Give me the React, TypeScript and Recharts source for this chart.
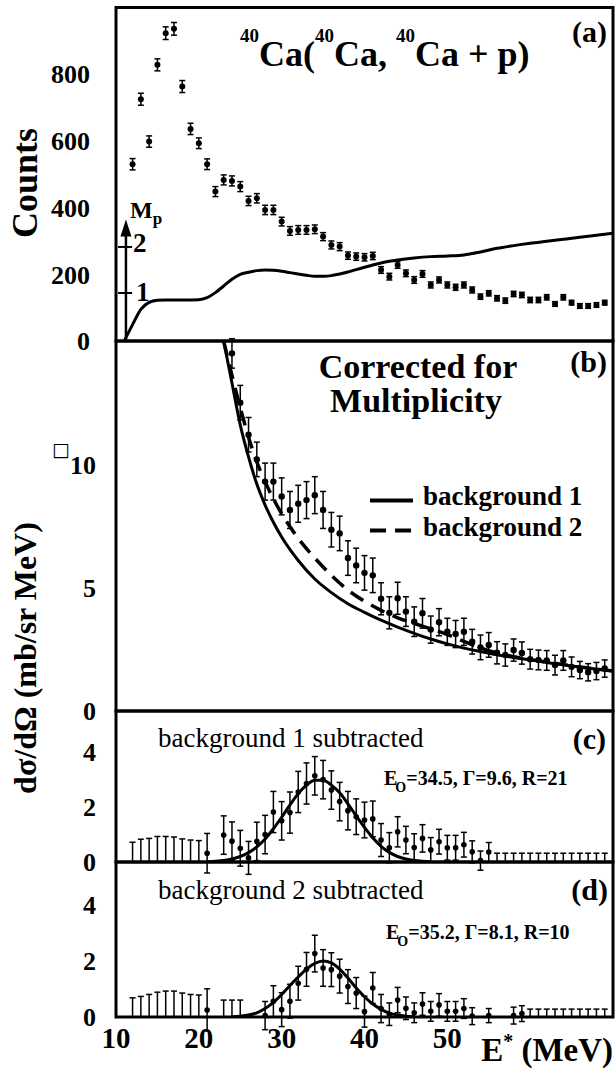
import React from "react";
import {
  ComposedChart,
  Scatter,
  Line,
  XAxis,
  YAxis,
  ErrorBar,
  ReferenceArea,
  ReferenceLine,
  ReferenceDot,
} from "recharts";

const FONT = "'Liberation Serif', 'Times New Roman', Times, serif";
const X_DOMAIN: [number, number] = [10, 70];
const X_TICK_MARKS = [20, 30, 40, 50, 60];
const X_TICK_LABELS = [10, 20, 30, 40, 50];

// ---------- panel (a): counts ----------
const aEnergy = [12, 13, 14, 15, 16, 17, 18, 19, 20, 21, 22, 23, 24, 25, 26, 27, 28, 29, 30, 31, 32, 33, 34, 35, 36, 37, 38, 39, 40, 41, 42, 43, 44, 45, 46, 47, 48, 49, 50, 51, 52, 53, 54, 55, 56, 57, 58, 59, 60, 61, 62, 63, 64, 65, 66, 67, 68, 69];
const aCounts = [530, 725, 598, 828, 923, 936, 763, 636, 593, 530, 448, 483, 480, 463, 420, 428, 393, 393, 358, 330, 333, 333, 335, 313, 288, 283, 256, 253, 251, 255, 213, 193, 228, 203, 183, 201, 168, 183, 168, 161, 168, 153, 133, 143, 128, 121, 141, 138, 123, 123, 131, 111, 131, 115, 105, 105, 108, 115];
const aErr = [17, 18, 17, 18, 19, 19, 18, 17, 16, 16, 15, 15, 15, 15, 14, 14, 14, 14, 13, 13, 13, 13, 13, 12, 12, 12, 11, 11, 11, 11, 10, 10, 10, 10, 10, 10, 9, 9, 9, 9, 9, 9, 8, 8, 8, 8, 8, 8, 8, 8, 8, 7, 8, 7, 7, 7, 7, 7];
// multiplicity curve, in counts units
const mpEnergy = [11, 12, 13, 14, 15, 16, 18, 20, 21, 22, 23, 24, 25, 26, 27, 28, 29, 30, 31, 32, 33, 34, 35, 36, 37, 38, 39, 40, 41, 42, 43, 44, 46, 48, 50, 52, 54, 56, 58, 60, 62, 64, 66, 68, 70];
const mpCounts = [0, 49, 95, 116, 122, 123, 123, 124, 130, 145, 165, 185, 200, 206, 211, 213, 212, 209, 205, 201, 197, 194, 194, 196, 201, 207, 214, 221, 228, 234, 239, 243, 249, 253, 255, 258, 267, 278, 286, 293, 299, 305, 311, 317, 323];
const MP_ARROW_E = 11.2;
const MP_ARROW_TOP = 340;
const MP_SCALE_TICKS = [144, 282];

// ---------- panel (b): cross section ----------
const bEnergy = [24, 25, 26, 27, 28, 29, 30, 31, 32, 33, 34, 35, 36, 37, 38, 39, 40, 41, 42, 43, 44, 45, 46, 47, 48, 49, 50, 51, 52, 53, 54, 55, 56, 57, 58, 59, 60, 61, 62, 63, 64, 65, 66, 67, 68, 69];
const bValue = [14.5, 12.5, 11.2, 10.2, 9.3, 9.3, 8.7, 8.15, 8.4, 8.55, 8.75, 8.15, 7.35, 7.2, 6.2, 5.9, 5.6, 5.5, 4.55, 3.98, 4.57, 4.03, 3.62, 3.96, 3.3, 3.6, 3.21, 3.12, 3.21, 2.81, 2.58, 2.68, 2.36, 2.27, 2.47, 2.35, 2.1, 2.07, 2.05, 1.86, 2.05, 1.79, 1.66, 1.57, 1.62, 1.72];
const bErr = [0.6, 0.7, 0.7, 0.7, 0.75, 0.75, 0.75, 0.75, 0.75, 0.75, 0.75, 0.75, 0.7, 0.7, 0.7, 0.7, 0.7, 0.7, 0.65, 0.65, 0.65, 0.6, 0.6, 0.6, 0.55, 0.55, 0.55, 0.55, 0.55, 0.5, 0.5, 0.5, 0.45, 0.45, 0.45, 0.45, 0.4, 0.4, 0.4, 0.4, 0.4, 0.4, 0.35, 0.35, 0.35, 0.35];
const bgEnergy = [23, 24, 25, 26, 27, 28, 29, 30, 32, 34, 36, 38, 40, 42, 44, 46, 48, 50, 52, 54, 56, 58, 60, 62, 64, 66, 68, 70];
const bg1Value = [15, 13.3, 11.6, 10.3, 9.2, 8.35, 7.65, 7.05, 6.1, 5.35, 4.8, 4.35, 4.0, 3.68, 3.4, 3.15, 2.92, 2.72, 2.55, 2.41, 2.28, 2.17, 2.07, 1.97, 1.87, 1.78, 1.7, 1.62];
const bg2Value = [15, 13.6, 12.3, 11.1, 10.1, 9.3, 8.6, 8.0, 7.0, 6.2, 5.5, 4.9, 4.45, 4.08, 3.78, 3.55, 3.33, 3.1, 2.82, 2.56, 2.35, 2.2, 2.09, 1.98, 1.88, 1.78, 1.7, 1.62];

// ---------- panel (c): background 1 subtracted ----------
const cEnergy = [21, 23, 24, 25, 26, 27, 28, 29, 30, 31, 32, 33, 34, 35, 36, 37, 38, 39, 40, 41, 42, 43, 44, 45, 46, 47, 48, 49, 50, 51, 52, 53, 54, 55];
const cValue = [0.32, 0.98, 0.76, 0.5, 0.15, 0.75, 1.0, 1.82, 1.5, 1.8, 2.55, 2.86, 3.14, 3.0, 2.62, 2.2, 1.87, 1.65, 1.53, 1.57, 0.8, 0.52, 1.1, 0.8, 0.53, 0.86, 0.44, 0.74, 0.52, 0.52, 0.63, 0.37, 0.05, 0.36];
const cErr = [0.72, 0.7, 0.7, 0.65, 0.6, 0.7, 0.7, 0.75, 0.7, 0.75, 0.75, 0.75, 0.7, 0.7, 0.7, 0.7, 0.7, 0.65, 0.65, 0.65, 0.6, 0.55, 0.55, 0.5, 0.5, 0.5, 0.45, 0.45, 0.45, 0.45, 0.45, 0.4, 0.35, 0.35];
const cLimitEnergy = [12, 13, 14, 15, 16, 17, 18, 19, 20, 56, 57, 58, 59, 60, 61, 62, 63, 64, 65, 66, 67, 68, 69];
const cLimitErr = [0.72, 0.83, 0.86, 0.93, 0.93, 0.91, 0.84, 0.8, 0.78, 0.32, 0.32, 0.32, 0.32, 0.32, 0.32, 0.32, 0.32, 0.32, 0.32, 0.32, 0.32, 0.32, 0.32];
const cFitEnergy = [21, 22, 23, 24, 25, 26, 27, 28, 29, 30, 31, 32, 33, 34, 35, 36, 37, 38, 39, 40, 41, 42, 43, 44, 45, 46, 47, 48];
const cFitValue = [0.01, 0.028, 0.057, 0.11, 0.2, 0.34, 0.55, 0.84, 1.21, 1.63, 2.08, 2.49, 2.8, 2.98, 2.98, 2.8, 2.52, 2.12, 1.68, 1.26, 0.88, 0.57, 0.35, 0.2, 0.11, 0.057, 0.028, 0.01];

// ---------- panel (d): background 2 subtracted ----------
const dEnergy = [21, 28, 29, 30, 31, 32, 33, 34, 35, 36, 37, 38, 39, 40, 41, 42, 43, 44, 45, 46, 47, 48, 49, 50, 51, 52, 53, 55, 58, 59];
const dValue = [0.25, 0.05, 0.56, 0.26, 0.56, 1.2, 1.69, 2.25, 1.74, 1.68, 1.45, 1.08, 0.85, 0.19, 1.03, 0.3, 0.1, 0.6, 0.31, 0.15, 0.46, 0.2, 0.43, 0.2, 0.2, 0.3, 0.03, 0.05, 0.05, 0.12];
const dErr = [0.75, 0.5, 0.55, 0.6, 0.6, 0.6, 0.6, 0.65, 0.65, 0.6, 0.6, 0.6, 0.55, 0.55, 0.55, 0.5, 0.4, 0.45, 0.4, 0.35, 0.4, 0.35, 0.4, 0.35, 0.35, 0.35, 0.3, 0.25, 0.3, 0.28];
const dLimitEnergy = [12, 13, 14, 15, 16, 17, 18, 19, 20, 23, 24, 25, 60, 61, 62, 63, 64, 65, 66, 67, 68, 69];
const dLimitErr = [0.68, 0.73, 0.8, 0.88, 0.92, 0.92, 0.85, 0.8, 0.78, 0.6, 0.6, 0.6, 0.28, 0.28, 0.28, 0.28, 0.28, 0.28, 0.28, 0.28, 0.28, 0.28];
const dFitEnergy = [24, 25, 26, 27, 28, 29, 30, 31, 32, 33, 34, 35, 36, 37, 38, 39, 40, 41, 42, 43, 44, 45, 46];
const dFitValue = [0.01, 0.03, 0.07, 0.15, 0.3, 0.52, 0.8, 1.12, 1.42, 1.7, 1.9, 1.99, 1.92, 1.7, 1.38, 1.03, 0.72, 0.46, 0.27, 0.14, 0.07, 0.03, 0.01];

// ---------- table builders ----------
const pts = (xs: number[], ys: number[], es: number[]) => xs.map((E, i) => ({ E, v: ys[i], err: es[i] }));
const curve = (xs: number[], ys: number[]) => xs.map((E, i) => ({ E, v: ys[i] }));
const limits = (xs: number[], es: number[]) => xs.map((E, i) => ({ E, v: 0, err: [0, es[i]] }));

const aData = pts(aEnergy, aCounts, aErr);
const mpData = curve(mpEnergy, mpCounts);
const bData = pts(bEnergy, bValue, bErr);
const bg1Data = curve(bgEnergy, bg1Value);
const bg2Data = curve(bgEnergy, bg2Value);
const cData = pts(cEnergy, cValue, cErr);
const cLimData = limits(cLimitEnergy, cLimitErr);
const cFitData = curve(cFitEnergy, cFitValue);
const dData = pts(dEnergy, dValue, dErr);
const dLimData = limits(dLimitEnergy, dLimitErr);
const dFitData = curve(dFitEnergy, dFitValue);

const dot = (r: number) => (p: any) => <circle cx={p.cx} cy={p.cy} r={r} fill="#000" />;
const noDot = () => <g />;
const arrowHead = (p: any) => (
  <path d={`M${p.cx},${p.cy - 8} L${p.cx - 5.5},${p.cy + 9} L${p.cx + 5.5},${p.cy + 9} Z`} fill="#000" />
);

const tickText = { fill: "#000", fontFamily: FONT, fontWeight: 700 };
const markLine = { stroke: "#000", strokeWidth: 3 };

function axes(yDomain: [number, number], yLabels: number[], yMarks: number[], gap: number, topTicks: boolean) {
  const els: React.ReactNode[] = [
    <XAxis key="xb" xAxisId="x" type="number" dataKey="E" domain={X_DOMAIN} allowDataOverflow ticks={X_TICK_MARKS} interval={0}
      orientation="bottom" mirror tick={false} axisLine={false} stroke="#000" tickLine={markLine} tickSize={7} />,
    <YAxis key="yl" yAxisId="y" type="number" dataKey="v" domain={yDomain} allowDataOverflow ticks={yLabels} interval={0}
      width={60} axisLine={false} tickLine={false} tickSize={0} tickMargin={gap} tick={{ ...tickText, fontSize: 26 }} />,
    <YAxis key="ym" yAxisId="ym" type="number" domain={yDomain} allowDataOverflow ticks={yMarks} interval={0}
      orientation="left" mirror tick={false} axisLine={false} stroke="#000" tickLine={markLine} tickSize={7} />,
  ];
  if (topTicks) {
    els.push(
      <XAxis key="xt" xAxisId="xt" type="number" dataKey="E" domain={X_DOMAIN} allowDataOverflow ticks={X_TICK_MARKS} interval={0}
        orientation="top" mirror tick={false} axisLine={false} stroke="#000" tickLine={markLine} tickSize={7} />
    );
  }
  return els;
}

function frame(yDomain: [number, number]) {
  return (
    <ReferenceArea key="frame" xAxisId="x" yAxisId="y" x1={X_DOMAIN[0]} x2={X_DOMAIN[1]} y1={yDomain[0]} y2={yDomain[1]}
      fill="#fff" fillOpacity={0} stroke="#000" strokeWidth={3} strokeOpacity={1} ifOverflow="visible" />
  );
}

const A_DOMAIN: [number, number] = [0, 1000];
const B_DOMAIN: [number, number] = [0, 15];
const C_DOMAIN: [number, number] = [0, 5.5];

export default function App() {
  const bold = { fontFamily: FONT, fontWeight: 700, fill: "#000" } as const;
  const regular = { fontFamily: FONT, fontWeight: 400, fill: "#000" } as const;
  return (
    <div style={{ position: "absolute", left: 0, top: 0, width: 616, height: 1073, background: "#fff" }}>
      {/* (a) */}
      <div style={{ position: "absolute", left: 0, top: 0 }}>
        <ComposedChart width={616} height={356} margin={{ top: 7.5, right: 3, bottom: 15, left: 56 }}>
          {axes(A_DOMAIN, [0, 200, 400, 600, 800], [200, 400, 600, 800], 26, true)}
          {frame(A_DOMAIN)}
          <Line xAxisId="x" yAxisId="y" data={mpData} dataKey="v" type="monotone" stroke="#000" strokeWidth={3} dot={false} isAnimationActive={false} />
          <Scatter xAxisId="x" yAxisId="y" data={aData} dataKey="v" shape={dot(3)} isAnimationActive={false}>
            <ErrorBar dataKey="err" direction="y" width={3} stroke="#000" strokeWidth={1.5} isAnimationActive={false} />
          </Scatter>
          <ReferenceLine xAxisId="x" yAxisId="y" segment={[{ x: MP_ARROW_E, y: 0 }, { x: MP_ARROW_E, y: MP_ARROW_TOP - 20 }]} stroke="#000" strokeWidth={2.5} ifOverflow="visible" />
          {MP_SCALE_TICKS.map((t) => (
            <ReferenceLine key={t} xAxisId="x" yAxisId="y" segment={[{ x: MP_ARROW_E - 0.95, y: t }, { x: MP_ARROW_E + 0.75, y: t }]} stroke="#000" strokeWidth={2} ifOverflow="visible" />
          ))}
          <ReferenceDot xAxisId="x" yAxisId="y" x={MP_ARROW_E} y={MP_ARROW_TOP} r={0} shape={arrowHead} ifOverflow="visible" />
        </ComposedChart>
      </div>

      {/* (b) */}
      <div style={{ position: "absolute", left: 0, top: 338 }}>
        <ComposedChart width={616} height={388} margin={{ top: 3, right: 3, bottom: 15, left: 56 }}>
          {axes(B_DOMAIN, [0, 5, 10], [5, 10], 20, false)}
          {frame(B_DOMAIN)}
          <Line xAxisId="x" yAxisId="y" data={bg1Data} dataKey="v" type="monotone" stroke="#000" strokeWidth={3} dot={false} isAnimationActive={false} />
          <Line xAxisId="x" yAxisId="y" data={bg2Data} dataKey="v" type="monotone" stroke="#000" strokeWidth={3.5} strokeDasharray="15 9" dot={false} isAnimationActive={false} />
          <Scatter xAxisId="x" yAxisId="y" data={bData} dataKey="v" shape={dot(3.2)} isAnimationActive={false}>
            <ErrorBar dataKey="err" direction="y" width={3} stroke="#000" strokeWidth={1.5} isAnimationActive={false} />
          </Scatter>
        </ComposedChart>
      </div>

      {/* (c) */}
      <div style={{ position: "absolute", left: 0, top: 708 }}>
        <ComposedChart width={616} height={169} margin={{ top: 3, right: 3, bottom: 15, left: 56 }}>
          {axes(C_DOMAIN, [0, 2, 4], [2, 4], 20, false)}
          {frame(C_DOMAIN)}
          <Line xAxisId="x" yAxisId="y" data={cFitData} dataKey="v" type="monotone" stroke="#000" strokeWidth={3} dot={false} isAnimationActive={false} />
          <Scatter xAxisId="x" yAxisId="y" data={cLimData} dataKey="v" shape={noDot} isAnimationActive={false}>
            <ErrorBar dataKey="err" direction="y" width={3} stroke="#000" strokeWidth={1.5} isAnimationActive={false} />
          </Scatter>
          <Scatter xAxisId="x" yAxisId="y" data={cData} dataKey="v" shape={dot(2.8)} isAnimationActive={false}>
            <ErrorBar dataKey="err" direction="y" width={3} stroke="#000" strokeWidth={1.5} isAnimationActive={false} />
          </Scatter>
        </ComposedChart>
      </div>

      {/* (d) */}
      <div style={{ position: "absolute", left: 0, top: 859 }}>
        <ComposedChart width={616} height={214} margin={{ top: 3, right: 3, bottom: 6, left: 56 }}>
          {axes(C_DOMAIN, [0, 2, 4], [2, 4], 20, false)}
          <XAxis xAxisId="xl" type="number" dataKey="E" domain={X_DOMAIN} allowDataOverflow ticks={X_TICK_LABELS} interval={0}
            height={50} axisLine={false} tickLine={false} tickSize={0} tickMargin={10} tick={{ ...tickText, fontSize: 29 }} />
          {frame(C_DOMAIN)}
          <Line xAxisId="x" yAxisId="y" data={dFitData} dataKey="v" type="monotone" stroke="#000" strokeWidth={3} dot={false} isAnimationActive={false} />
          <Scatter xAxisId="x" yAxisId="y" data={dLimData} dataKey="v" shape={noDot} isAnimationActive={false}>
            <ErrorBar dataKey="err" direction="y" width={3} stroke="#000" strokeWidth={1.5} isAnimationActive={false} />
          </Scatter>
          <Scatter xAxisId="x" yAxisId="y" data={dData} dataKey="v" shape={dot(2.8)} isAnimationActive={false}>
            <ErrorBar dataKey="err" direction="y" width={3} stroke="#000" strokeWidth={1.5} isAnimationActive={false} />
          </Scatter>
        </ComposedChart>
      </div>

      {/* annotations */}
      <svg width={616} height={1073} style={{ position: "absolute", left: 0, top: 0, pointerEvents: "none" }}>
        <text transform="translate(37,183) rotate(-90)" textAnchor="middle" fontSize={36} {...bold}>Counts</text>
        <text transform="translate(36,658) rotate(-90)" textAnchor="middle" fontSize={32} {...bold}>dσ/dΩ (mb/sr MeV)</text>

        <text x={240} y={66} fontSize={36} {...bold}>
          <tspan fontSize={19} dy={-24}>40</tspan>
          <tspan dy={24}>Ca(</tspan>
          <tspan fontSize={19} dy={-24}>40</tspan>
          <tspan dy={24}>Ca, </tspan>
          <tspan fontSize={19} dy={-24}>40</tspan>
          <tspan dy={24}>Ca + p)</tspan>
        </text>
        <text x={607} y={42} textAnchor="end" fontSize={30} {...bold}>(a)</text>

        <text x={130} y={218} fontSize={24} {...bold}>
          M<tspan fontSize={17} dy={6}>p</tspan>
        </text>
        <text x={133} y={252} fontSize={27} {...bold}>2</text>
        <text x={136} y={301} fontSize={27} {...bold}>1</text>

        <text x={418} y={378} textAnchor="middle" fontSize={34} {...bold}>Corrected for</text>
        <text x={416} y={412} textAnchor="middle" fontSize={34} {...bold}>Multiplicity</text>
        <text x={607} y={372} textAnchor="end" fontSize={30} {...bold}>(b)</text>
        <text x={52} y={456} fontSize={19} fontWeight={700} fontFamily="DejaVu Sans" fill="#000">□</text>

        <line x1={370} y1={500.5} x2={413} y2={500.5} stroke="#000" strokeWidth={4} />
        <text x={423} y={505} fontSize={27} {...bold}>background 1</text>
        <line x1={370} y1={530.5} x2={413} y2={530.5} stroke="#000" strokeWidth={4} strokeDasharray="16 9" />
        <text x={423} y={536} fontSize={27} {...bold}>background 2</text>

        <text x={158} y={747} fontSize={27} {...regular}>background 1 subtracted</text>
        <text x={606} y={749} textAnchor="end" fontSize={30} {...bold}>(c)</text>
        <text x={384} y={785} fontSize={20} {...bold}>
          E<tspan fontSize={14} dy={7} dx={-2}>O</tspan><tspan dy={-7}>=34.5, Γ=9.6, R=21</tspan>
        </text>

        <text x={158} y={899} fontSize={27} {...regular}>background 2 subtracted</text>
        <text x={608} y={900} textAnchor="end" fontSize={30} {...bold}>(d)</text>
        <text x={386} y={939} fontSize={20} {...bold}>
          E<tspan fontSize={14} dy={7} dx={-2}>O</tspan><tspan dy={-7}>=35.2, Γ=8.1, R=10</tspan>
        </text>

        <text x={613} y={1061} textAnchor="end" fontSize={33} {...bold}>
          E<tspan fontSize={20} dy={-13}>*</tspan><tspan dy={13}> (MeV)</tspan>
        </text>
      </svg>
    </div>
  );
}
